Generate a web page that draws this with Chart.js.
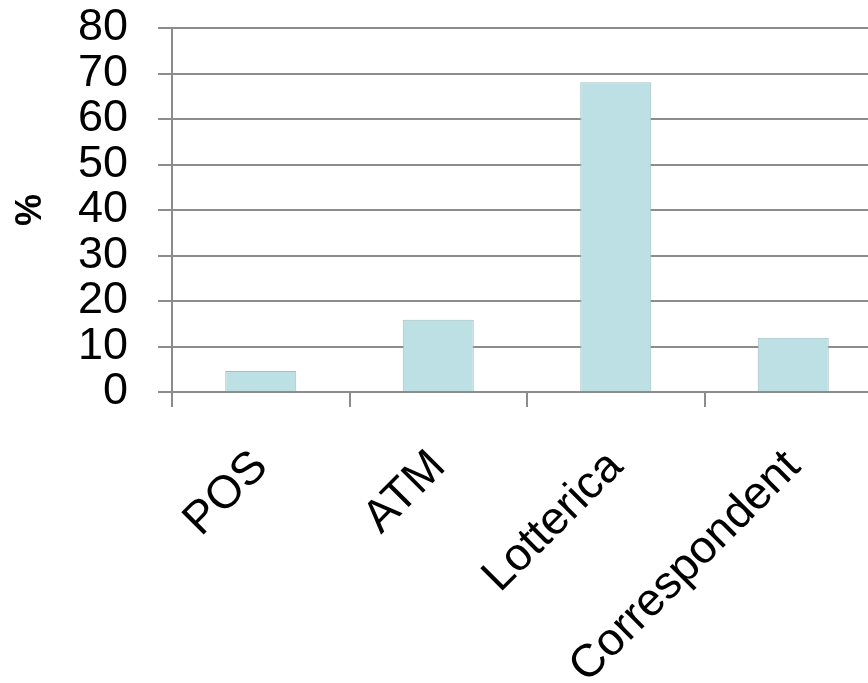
<!DOCTYPE html>
<html>
<head>
<meta charset="utf-8">
<script src="https://cdn.jsdelivr.net/npm/chart.js@4/dist/chart.umd.min.js"></script>
<style>
  html, body { margin: 0; padding: 0; background: #fff; overflow: hidden; }
  #wrap { width: 900px; height: 683px; position: relative; }
</style>
</head>
<body>
<div id="wrap"><canvas id="dataChart"></canvas></div>
<script>
// Chart values
const categories = ["POS", "ATM", "Lotterica", "Correspondent"];
const shares = [4.6, 15.9, 68.1, 11.9];
const yTicks = [0, 10, 20, 30, 40, 50, 60, 70, 80];

const gridGrey = "#8c8c8c";
const fontFamily = "'Liberation Sans', Arial, sans-serif";

const ctx = document.getElementById("dataChart").getContext("2d");

new Chart(ctx, {
    type: "bar",
    data: {
        labels: categories,
        datasets: [{
            label: "%",
            data: shares,
            backgroundColor: "#bce0e3",
            borderColor: "#a3bec1",
            borderWidth: 1,
            barPercentage: 0.8,
            categoryPercentage: 0.5
        }]
    },
    options: {
        responsive: true,
        maintainAspectRatio: false,
        animation: false,
        layout: {
            padding: { top: 28, right: 18, left: 0, bottom: 0 }
        },
        plugins: {
            legend: { display: false },
            tooltip: { enabled: false }
        },
        scales: {
            x: {
                offset: true,
                grid: {
                    offset: true,
                    drawOnChartArea: false,
                    drawTicks: true,
                    tickLength: 15,
                    color: gridGrey,
                    lineWidth: 2
                },
                border: { display: true, color: gridGrey, width: 2 },
                ticks: {
                    color: "#000",
                    font: { family: fontFamily, size: 46 },
                    minRotation: 45,
                    maxRotation: 45,
                    padding: 33,
                    autoSkip: false
                },
                afterFit: (scale) => {
                    scale.height = 683 - 392;
                    scale.paddingLeft = 0;
                    scale.paddingRight = 0;
                }
            },
            y: {
                min: 0,
                max: 80,
                afterBuildTicks: (scale) => {
                    scale.ticks = yTicks.map(v => ({ value: v }));
                },
                grid: {
                    color: gridGrey,
                    lineWidth: 2,
                    drawTicks: true,
                    tickLength: 14
                },
                border: { display: true, color: gridGrey, width: 2 },
                ticks: {
                    color: "#000",
                    font: { family: fontFamily, size: 45 },
                    padding: 30,
                    autoSkip: false
                },
                title: {
                    display: true,
                    text: "%",
                    color: "#000",
                    font: { family: fontFamily, size: 36, weight: "bold" },
                    padding: { top: 9, bottom: 0 }
                },
                afterFit: (scale) => {
                    scale.width = 172;
                    scale.paddingTop = 0;
                    scale.paddingBottom = 0;
                }
            }
        }
    }
});
</script>
</body>
</html>
